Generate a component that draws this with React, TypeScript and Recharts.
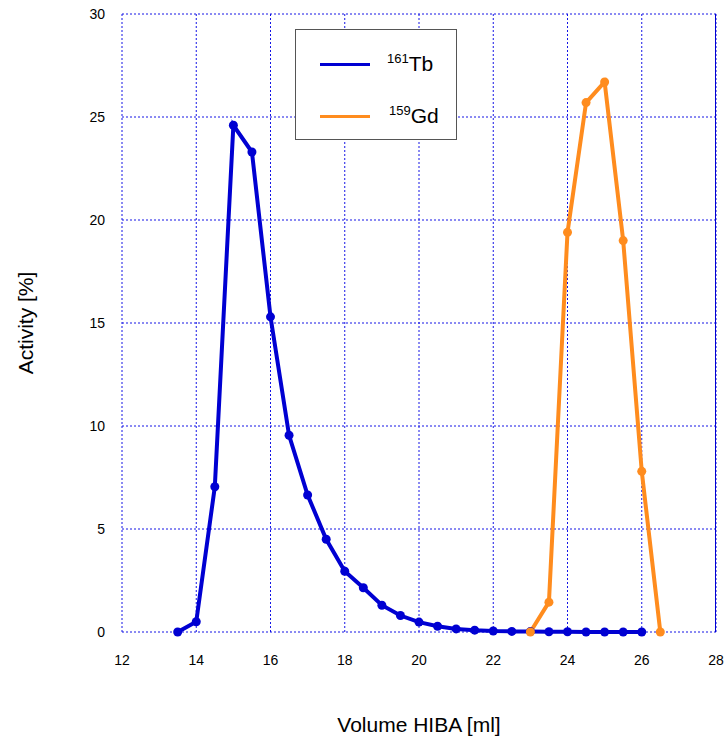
import React from 'react';
import {
  CartesianGrid,
  Line,
  LineChart,
  XAxis,
  YAxis,
} from 'recharts';

const tbVolume = [13.5, 14, 14.5, 15, 15.5, 16, 16.5, 17, 17.5, 18, 18.5, 19, 19.5, 20, 20.5, 21, 21.5, 22, 22.5, 23, 23.5, 24, 24.5, 25, 25.5, 26];
const tbActivity = [0, 0.5, 7.05, 24.6, 23.3, 15.3, 9.55, 6.65, 4.5, 2.95, 2.15, 1.3, 0.8, 0.48, 0.28, 0.15, 0.09, 0.05, 0.03, 0.02, 0.01, 0.01, 0, 0, 0, 0];

const gdVolume = [23, 23.5, 24, 24.5, 25, 25.5, 26, 26.5];
const gdActivity = [0, 1.45, 19.4, 25.7, 26.7, 19.0, 7.8, 0];

const xTicks = [12, 14, 16, 18, 20, 22, 24, 26, 28];
const yTicks = [0, 5, 10, 15, 20, 25, 30];

const tbData = tbVolume.map((v, i) => ({ volume: v, activity: tbActivity[i] }));
const gdData = gdVolume.map((v, i) => ({ volume: v, activity: gdActivity[i] }));

const BLUE = '#0000d2';
const ORANGE = '#ff8c1e';
const GRID = '#1414e6';
const FONT = '"Liberation Sans", Arial, sans-serif';

export default function App() {
  return (
    <div style={{ position: 'absolute', left: 0, top: 0, width: 725, height: 743, fontFamily: FONT, background: '#fff' }}>
      <LineChart
        width={725}
        height={743}
        margin={{ top: 14, right: 9, bottom: 0, left: 0 }}
      >
        <CartesianGrid stroke={GRID} strokeDasharray="2 2" strokeWidth={1} />
        <XAxis
          dataKey="volume"
          type="number"
          domain={[12, 28]}
          ticks={xTicks}
          allowDuplicatedCategory={false}
          axisLine={false}
          tickLine={false}
          tickSize={0}
          tickMargin={23}
          height={111}
          tick={{ fill: '#000', fontSize: 14, fontFamily: FONT }}
          label={{ value: 'Volume HIBA [ml]', position: 'insideBottom', offset: 11, fill: '#000', fontSize: 21, fontFamily: FONT }}
        />
        <YAxis
          type="number"
          domain={[0, 30]}
          ticks={yTicks}
          axisLine={false}
          tickLine={false}
          tickSize={0}
          tickMargin={17}
          width={122}
          tick={{ fill: '#000', fontSize: 14, fontFamily: FONT }}
          label={{ value: 'Activity [%]', angle: -90, position: 'insideLeft', offset: 26, fill: '#000', fontSize: 21, fontFamily: FONT, style: { textAnchor: 'middle' } }}
        />
        <Line
          data={tbData}
          dataKey="activity"
          type="linear"
          stroke={BLUE}
          strokeWidth={4}
          dot={{ r: 4.5, fill: BLUE, stroke: BLUE, strokeWidth: 0 }}
          isAnimationActive={false}
        />
        <Line
          data={gdData}
          dataKey="activity"
          type="linear"
          stroke={ORANGE}
          strokeWidth={4}
          dot={{ r: 4.5, fill: ORANGE, stroke: ORANGE, strokeWidth: 0 }}
          isAnimationActive={false}
        />
      </LineChart>
      <div style={{ position: 'absolute', left: 715, top: 14, width: 1, height: 618, background: BLUE }} />
      <div
        style={{
          position: 'absolute',
          left: 295,
          top: 29,
          width: 162,
          height: 111,
          border: '1px solid #555',
          background: '#fff',
          boxSizing: 'border-box',
        }}
      >
        <div style={{ position: 'absolute', left: 24, top: 33, width: 50, height: 3, background: BLUE }} />
        <div style={{ position: 'absolute', left: 91, top: 18, fontSize: 21, lineHeight: '22px', color: '#000' }}>
          <sup style={{ fontSize: 13 }}>161</sup>Tb
        </div>
        <div style={{ position: 'absolute', left: 24, top: 85, width: 50, height: 3, background: ORANGE }} />
        <div style={{ position: 'absolute', left: 93, top: 70, fontSize: 21, lineHeight: '22px', color: '#000' }}>
          <sup style={{ fontSize: 13 }}>159</sup>Gd
        </div>
      </div>
    </div>
  );
}
